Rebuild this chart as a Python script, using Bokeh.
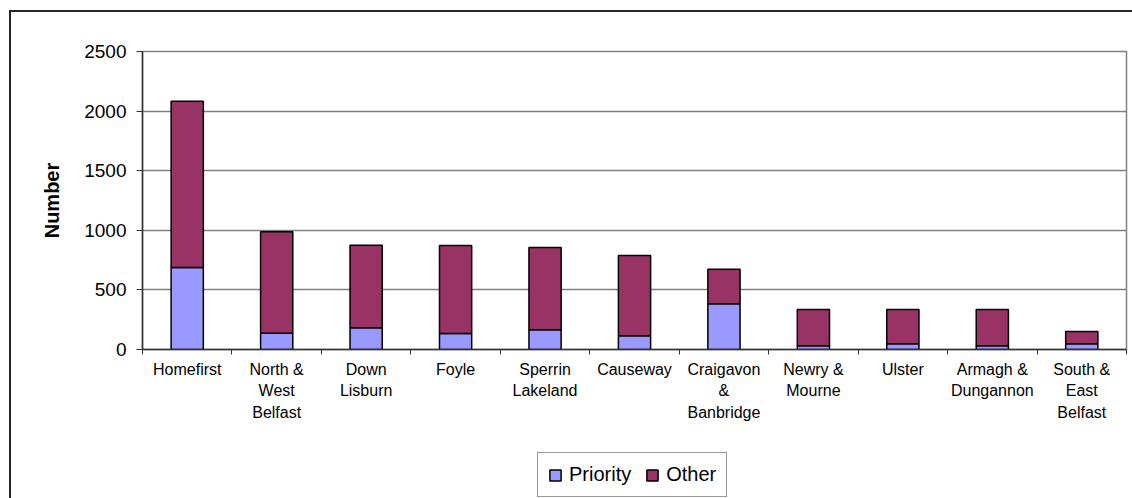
from bokeh.plotting import figure
from bokeh.models import ColumnDataSource, FixedTicker, Legend, LegendItem
from bokeh.layouts import column
from bokeh.embed import file_html
from bokeh.resources import INLINE

categories = ["Homefirst", "North &\nWest\nBelfast", "Down\nLisburn", "Foyle",
              "Sperrin\nLakeland", "Causeway", "Craigavon\n&\nBanbridge",
              "Newry &\nMourne", "Ulster", "Armagh &\nDungannon", "South &\nEast\nBelfast"]
priority = [688, 137, 182, 134, 165, 115, 383, 31, 48, 31, 48]
other = [1395, 850, 693, 738, 691, 674, 291, 305, 288, 305, 103]
series = ["Priority", "Other"]
colors = ["#9999FF", "#993366"]
y_ticks = [0, 500, 1000, 1500, 2000, 2500]

xs = list(range(len(categories)))
source = ColumnDataSource(dict(x=xs, Priority=priority, Other=other))

FONT = "Liberation Sans"

p = figure(width=1121, height=428, output_backend="svg", toolbar_location=None,
           x_range=(-0.5, len(categories) - 0.5), y_range=(0, 2500),
           min_border_left=131, min_border_right=6, min_border_top=39, min_border_bottom=91)

p.vbar_stack(series, x="x", width=0.36, source=source,
             fill_color=colors, line_color="black", line_width=1.5)

p.outline_line_color = "#808080"
p.outline_line_width = 1.5
p.background_fill_color = "white"
p.border_fill_color = "white"

p.xgrid.visible = False
p.ygrid.grid_line_color = "#808080"
p.ygrid.grid_line_width = 1.5
p.ygrid.ticker = FixedTicker(ticks=y_ticks)

# y axis
p.yaxis.ticker = FixedTicker(ticks=y_ticks)
p.yaxis.axis_label = "Number"
p.yaxis.axis_label_text_font = FONT
p.yaxis.axis_label_text_font_style = "bold"
p.yaxis.axis_label_text_font_size = "20px"
p.yaxis.axis_label_text_color = "black"
p.yaxis.axis_label_standoff = 18
p.yaxis.major_label_text_font = FONT
p.yaxis.major_label_text_font_size = "19px"
p.yaxis.major_label_text_color = "black"
p.yaxis.major_label_standoff = 10
p.yaxis.axis_line_color = "#333333"
p.yaxis.axis_line_width = 1.5
p.yaxis.major_tick_line_color = "#333333"
p.yaxis.major_tick_out = 6
p.yaxis.major_tick_in = 0
p.yaxis.minor_tick_line_color = None

# x axis
bounds = [i - 0.5 for i in range(len(categories) + 1)]
p.xaxis.ticker = FixedTicker(ticks=xs, minor_ticks=bounds)
p.xaxis.major_label_overrides = {i: c for i, c in enumerate(categories)}
p.xaxis.major_label_text_font = FONT
p.xaxis.major_label_text_font_size = "16px"
p.xaxis.major_label_text_line_height = 1.29
p.xaxis.major_label_standoff = 6
p.xaxis.major_label_text_color = "black"
p.xaxis.major_tick_out = 0
p.xaxis.major_tick_in = 0
p.xaxis.minor_tick_out = 5
p.xaxis.minor_tick_in = 0
p.xaxis.minor_tick_line_color = "#333333"
p.xaxis.axis_line_color = "#333333"
p.xaxis.axis_line_width = 1.5

# legend strip (separate figure so the legend is not clipped by the chart frame);
# its stacked bars (same data) are hidden, only their legend swatches show
lg = figure(width=1121, height=58, output_backend="svg", toolbar_location=None,
            x_range=(-0.5, len(categories) - 0.5), y_range=(0, 2500), min_border=0)
lg.axis.visible = False
lg.grid.visible = False
lg.outline_line_color = None
lg.background_fill_color = "white"
lg.border_fill_color = "white"
lr = lg.vbar_stack(series, x="x", width=0.36, source=source,
                   fill_color=colors, line_color="black", line_width=1.5)
for r in lr:
    r.visible = False
items = [LegendItem(label=name, renderers=[r]) for name, r in zip(series, lr)]

legend = Legend(items=items, orientation="horizontal", location=(395, 1))
legend.label_text_font = FONT
legend.label_text_font_size = "20px"
legend.label_text_color = "black"
legend.glyph_width = 14
legend.glyph_height = 14
legend.border_line_color = "#333333"
legend.border_line_width = 1.5
legend.padding = 10
legend.spacing = 14
legend.label_standoff = 7
legend.margin = 0
legend.background_fill_color = "white"
legend.background_fill_alpha = 1
legend.inactive_fill_alpha = 0
lg.add_layout(legend, "center")

layout = column(p, lg, spacing=0,
                styles={"margin-left": "9px", "margin-top": "10px",
                        "border-left": "2px solid #262626", "border-top": "2px solid #262626"})

open("out.html", "w").write(file_html(layout, INLINE))
